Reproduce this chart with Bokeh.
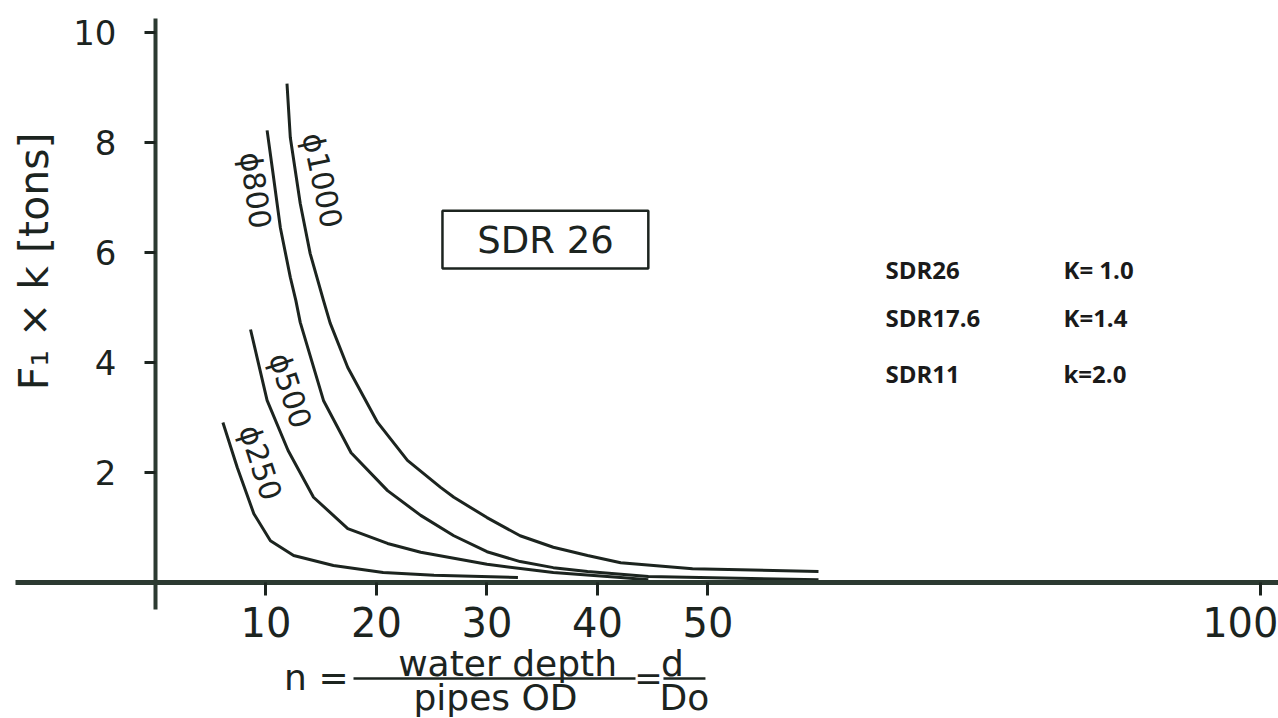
import math
from bokeh.plotting import figure
from bokeh.models import FixedTicker, Label, BoxAnnotation, Range1d
from bokeh.embed import file_html
from bokeh.resources import INLINE

# ---------------- data ----------------
x_ticks = [10, 20, 30, 40, 50, 100]
y_ticks = [2, 4, 6, 8, 10]

phi1000_n = [11.9, 12.2, 13.1, 14.0, 15.2, 15.8, 17.4, 20.1, 22.8, 25.8, 27.0, 30.0, 33.0, 36.0, 39.1, 42.1, 48.6, 60.0]
phi1000_f = [9.07, 8.09, 6.89, 5.98, 5.13, 4.72, 3.91, 2.91, 2.22, 1.73, 1.55, 1.18, 0.85, 0.64, 0.49, 0.36, 0.25, 0.20]

phi800_n = [10.1, 10.6, 11.3, 12.2, 12.7, 13.1, 15.2, 17.7, 21.0, 24.0, 27.0, 30.0, 33.0, 36.0, 39.1, 44.6, 60.0]
phi800_f = [8.22, 7.49, 6.45, 5.55, 5.13, 4.73, 3.31, 2.36, 1.67, 1.22, 0.85, 0.56, 0.38, 0.27, 0.20, 0.11, 0.05]

phi500_n = [8.6, 10.1, 12.0, 14.3, 17.4, 21.0, 24.0, 30.0, 36.0, 42.1, 44.6]
phi500_f = [4.60, 3.31, 2.40, 1.55, 0.98, 0.71, 0.55, 0.33, 0.18, 0.09, 0.05]

phi250_n = [6.1, 7.4, 8.9, 10.4, 12.5, 16.1, 20.6, 25.2, 32.8]
phi250_f = [2.91, 2.09, 1.25, 0.76, 0.49, 0.31, 0.18, 0.13, 0.09]

curve_labels = ["ϕ1000", "ϕ800", "ϕ500", "ϕ250"]
sdr_names = ["SDR26", "SDR17.6", "SDR11"]
k_values = ["K= 1.0", "K=1.4", "k=2.0"]

# ---------------- styling ----------------
FONT = "DejaVu Sans"
INK = "#1c241f"
AXIS = "#2c3a31"

p = figure(width=1278, height=718,
           x_range=Range1d(-14.027, 101.63), y_range=Range1d(-2.473, 10.582),
           output_backend="svg", toolbar_location=None,
           min_border=0, outline_line_color=None,
           background_fill_color="white", border_fill_color="white")
p.grid.visible = False

# axes crossing at the origin
xa = p.xaxis[0]
xa.fixed_location = 0
xa.bounds = (-12.7, 102)
xa.ticker = FixedTicker(ticks=x_ticks)
xa.minor_tick_line_color = None
xa.major_tick_in = 0
xa.major_tick_out = 13
xa.major_tick_line_width = 3
xa.major_tick_line_color = INK
xa.axis_line_width = 5
xa.axis_line_color = AXIS
xa.major_label_text_font = FONT
xa.major_label_text_font_size = "40px"
xa.major_label_text_color = INK
xa.major_label_standoff = 12

ya = p.yaxis[0]
ya.fixed_location = 0
ya.bounds = (-0.5, 10.25)
ya.ticker = FixedTicker(ticks=y_ticks)
ya.minor_tick_line_color = None
ya.major_tick_in = 0
ya.major_tick_out = 11
ya.major_tick_line_width = 3
ya.major_tick_line_color = INK
ya.axis_line_width = 4
ya.axis_line_color = AXIS
ya.major_label_text_font = FONT
ya.major_label_text_font_size = "34px"
ya.major_label_text_color = INK
ya.major_label_standoff = 28

# curves
for xs, ys in [(phi1000_n, phi1000_f), (phi800_n, phi800_f),
               (phi500_n, phi500_f), (phi250_n, phi250_f)]:
    p.line(xs, ys, line_color=INK, line_width=3, line_join="round")

# curve labels (rotated along the curves)
label_pos = [(15.1, 7.31, -78), (9.05, 7.13, -82), (12.2, 3.49, -72), (9.5, 2.18, -72)]
for txt, (lx, ly, deg) in zip(curve_labels, label_pos):
    p.add_layout(Label(x=lx, y=ly, text=txt, angle=math.radians(deg),
                       text_align="center", text_baseline="middle",
                       text_font=FONT, text_font_size="30px", text_color=INK))

# SDR 26 box
p.add_layout(BoxAnnotation(left=25.97, right=44.6, top=6.76, bottom=5.71,
                           fill_alpha=0, line_color=INK, line_alpha=1.0,
                           line_width=2.5))
p.add_layout(Label(x=35.3, y=6.22, text="SDR 26", text_align="center",
                   text_baseline="middle", text_font=FONT,
                   text_font_size="37px", text_color=INK))

# SDR / K table
row_y = [5.69, 4.82, 3.80]
for name, kv, ry in zip(sdr_names, k_values, row_y):
    p.add_layout(Label(x=66.06, y=ry, text=name, text_align="left",
                       text_baseline="middle", text_font="Open Sans",
                       text_font_style="bold", text_font_size="24px",
                       text_color="#1a1a1a"))
    p.add_layout(Label(x=82.17, y=ry, text=kv, text_align="left",
                       text_baseline="middle", text_font="Open Sans",
                       text_font_style="bold", text_font_size="24px",
                       text_color="#1a1a1a"))

# y axis title
p.add_layout(Label(x=-11.04, y=5.84, text="F₁ × k [tons]", angle=math.pi / 2,
                   text_align="center", text_baseline="middle",
                   text_font=FONT, text_font_size="41px", text_color=INK))

# x axis title: n = water depth / pipes OD = d / Do
p.add_layout(Label(x=17.47, y=-1.727, text="n =", text_align="right",
                   text_baseline="middle", text_font=FONT,
                   text_font_size="36px", text_color=INK))
p.segment(x0=[17.92, 45.97], y0=[-1.745, -1.745], x1=[43.44, 49.77], y1=[-1.745, -1.745],
          line_color=INK, line_width=2.5)
p.add_layout(Label(x=31.86, y=-1.473, text="water depth", text_align="center",
                   text_baseline="middle", text_font=FONT,
                   text_font_size="36px", text_color=INK))
p.add_layout(Label(x=30.77, y=-2.09, text="pipes OD", text_align="center",
                   text_baseline="middle", text_font=FONT,
                   text_font_size="36px", text_color=INK))
p.add_layout(Label(x=44.62, y=-1.745, text="=", text_align="center",
                   text_baseline="middle", text_font=FONT,
                   text_font_size="34px", text_color=INK))
p.add_layout(Label(x=46.79, y=-1.473, text="d", text_align="center",
                   text_baseline="middle", text_font=FONT,
                   text_font_size="36px", text_color=INK))
p.add_layout(Label(x=47.87, y=-2.09, text="Do", text_align="center",
                   text_baseline="middle", text_font=FONT,
                   text_font_size="36px", text_color=INK))

open("out.html", "w").write(file_html(p, INLINE))
